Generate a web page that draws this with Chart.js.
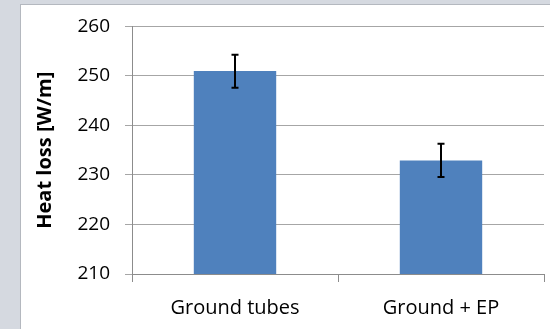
<!DOCTYPE html>
<html>
<head>
<meta charset="utf-8">
<script src="https://cdn.jsdelivr.net/npm/chart.js@4/dist/chart.umd.min.js"></script>
<style>
  body { margin: 0; background: #d5d9e0; width: 550px; height: 329px; overflow: hidden; }
  #panel { position: absolute; left: 20px; top: 4px; width: 540px; height: 340px; background: #fff; border: 1px solid #b4b8bf; }
  #heatLoss { position: absolute; left: 0; top: 0; }
</style>
</head>
<body>
<div id="panel"></div>
<canvas id="heatLoss" width="550" height="329"></canvas>
<script>
// values
var categories = ['Ground tubes', 'Ground + EP'];
var heatLoss = [251.0, 232.9];
var errPlus = [3.3, 3.4];
var errMinus = [3.4, 3.3];
var yTicks = [210, 220, 230, 240, 250, 260];

var fontName = "'Open Sans', sans-serif";

// draws the I-shaped error bars on top of each bar
var errorBars = {
    id: 'errorBars',
    afterDatasetsDraw: function (chart) {
        var ctx = chart.ctx;
        var y = chart.scales.y;
        var meta = chart.getDatasetMeta(0);
        ctx.save();
        ctx.strokeStyle = '#000';
        ctx.lineWidth = 2;
        meta.data.forEach(function (bar, i) {
            var top = y.getPixelForValue(heatLoss[i] + errPlus[i]);
            var bot = y.getPixelForValue(heatLoss[i] - errMinus[i]);
            var x = bar.x;
            ctx.beginPath();
            ctx.moveTo(x, top); ctx.lineTo(x, bot);
            ctx.moveTo(x - 3.5, top); ctx.lineTo(x + 3.5, top);
            ctx.moveTo(x - 3.5, bot); ctx.lineTo(x + 3.5, bot);
            ctx.stroke();
        });
        ctx.restore();
    }
};

new Chart(document.getElementById('heatLoss').getContext('2d'), {
    type: 'bar',
    data: {
        labels: categories,
        datasets: [{
            data: heatLoss,
            backgroundColor: '#4f81bd',
            borderWidth: 0,
            barPercentage: 0.4,
            categoryPercentage: 1.0
        }]
    },
    options: {
        responsive: false,
        animation: false,
        devicePixelRatio: 1,
        layout: { padding: { left: 0, right: 6, top: 21, bottom: 0 } },
        plugins: { legend: { display: false }, tooltip: { enabled: false } },
        scales: {
            x: {
                grid: { display: true, drawOnChartArea: false, drawTicks: true, tickLength: 8, color: '#8c8c8c', offset: true },
                border: { display: true, color: '#8c8c8c', width: 1 },
                ticks: { color: '#000', font: { family: fontName, size: 20 }, padding: 14, maxRotation: 0, autoSkip: false },
                afterFit: function (s) { s.height = 55; }
            },
            y: {
                min: 210,
                max: 260,
                afterBuildTicks: function (s) { s.ticks = yTicks.map(function (v) { return { value: v }; }); },
                grid: { color: '#a6a6a6', tickLength: 7, lineWidth: 1 },
                border: { display: true, color: '#8c8c8c', width: 1 },
                ticks: { color: '#000', font: { family: fontName, size: 19 }, padding: 15, autoSkip: false },
                title: {
                    display: true,
                    text: 'Heat loss [W/m]',
                    color: '#000',
                    font: { family: fontName, size: 20, weight: 'bold' },
                    padding: { top: 33, bottom: 0 }
                },
                afterFit: function (s) { s.width = 132; }
            }
        }
    },
    plugins: [errorBars]
});
</script>
</body>
</html>
